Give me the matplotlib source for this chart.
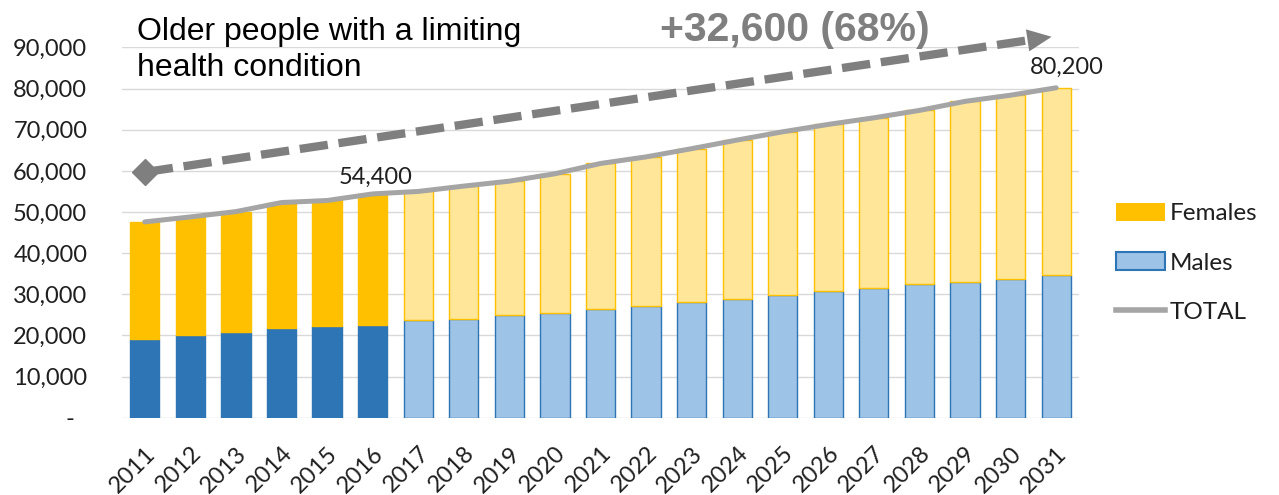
import matplotlib
matplotlib.use("Agg")
import matplotlib.pyplot as plt
from matplotlib.lines import Line2D
from matplotlib.patches import Patch
import numpy as np

# ---- data ------------------------------------------------------------------
YEARS = [str(y) for y in range(2011, 2032)]
MALES = [19200, 20000, 20900, 21800, 22200, 22600, 23700, 24100, 24900, 25400,
         26400, 27200, 28100, 28900, 29800, 30800, 31600, 32400, 32900, 33800, 34600]
TOTAL = [47600, 48800, 50100, 52300, 52800, 54400, 55000, 56300, 57500, 59300,
         61800, 63400, 65400, 67500, 69500, 71300, 72900, 74700, 76900, 78400, 80200]
FEMALES = [t - m for t, m in zip(TOTAL, MALES)]
N_OBSERVED = 6          # 2011-2016 observed, the rest projected

Y_TICKS = [0, 10000, 20000, 30000, 40000, 50000, 60000, 70000, 80000, 90000]
Y_LABELS = ["-  ", "10,000", "20,000", "30,000", "40,000", "50,000",
            "60,000", "70,000", "80,000", "90,000"]

LABELLED = {5: "54,400", 20: "80,200"}   # bar index -> data label
TITLE = "Older people with a limiting\nhealth condition"
CHANGE = "+32,600 (68%)"
ARROW_FROM = (0, 59700)
ARROW_TO = (19.9, 92600)

# ---- palette ---------------------------------------------------------------
F_DARK, F_LIGHT = "#FFC000", "#FFE699"
M_DARK, M_LIGHT = "#2E75B6", "#9DC3E6"
TOTAL_C = "#A5A5A5"
ARROW_C = "#7F7F7F"
GRID_C = "#D9D9D9"
TXT = "#1F1F1F"
LABEL_FONT = "Lato"
TITLE_FONT = "Liberation Sans"
LABEL_NUDGE = {5: (2, 4.5), 20: (8, 7.5)}    # points, data-label offsets

fig = plt.figure(figsize=(12.79, 4.95), dpi=100)
ax = fig.add_axes([0.0954, 0.1562, 0.7482, 0.7479])

x = np.arange(len(YEARS))
m_col = [M_DARK if i < N_OBSERVED else M_LIGHT for i in x]
f_col = [F_DARK if i < N_OBSERVED else F_LIGHT for i in x]
ax.bar(x, MALES, width=0.64, color=m_col, edgecolor=M_DARK, linewidth=1.0, zorder=2)
ax.bar(x, FEMALES, bottom=MALES, width=0.64, color=f_col, edgecolor=F_DARK,
       linewidth=1.0, zorder=2)
ax.plot(x, TOTAL, color=TOTAL_C, lw=3.6, solid_capstyle="round", zorder=3)

for i, lab in LABELLED.items():
    ax.annotate(lab, (x[i], TOTAL[i]), xytext=LABEL_NUDGE[i], textcoords="offset points",
                ha="center", va="bottom", fontsize=17, family=LABEL_FONT, color=TXT)

# dashed growth arrow
frac = 0.972
x_end = ARROW_FROM[0] + frac * (ARROW_TO[0] - ARROW_FROM[0])
y_end = ARROW_FROM[1] + frac * (ARROW_TO[1] - ARROW_FROM[1])
ax.plot([ARROW_FROM[0], x_end], [ARROW_FROM[1], y_end], color=ARROW_C, lw=6,
        dashes=(3.4, 1.3), solid_capstyle="butt", clip_on=False, zorder=4)
ax.plot(*ARROW_FROM, marker="D", ms=13, color=ARROW_C, clip_on=False, zorder=4)
ax.annotate("", xy=ARROW_TO, xytext=ARROW_FROM, annotation_clip=False,
            arrowprops=dict(arrowstyle="-|>,head_length=1.75,head_width=0.8",
                            color=ARROW_C, lw=0, shrinkA=0, shrinkB=0), zorder=4)

ax.set_xlim(-0.5, len(YEARS) - 0.5)
ax.set_ylim(0, 90000)
ax.set_yticks(Y_TICKS, Y_LABELS)
ax.set_xticks(x, YEARS, rotation=45, ha="right", va="top", rotation_mode="anchor")
ax.tick_params(axis="y", length=0, pad=25, labelsize=17, labelcolor=TXT)
ax.tick_params(axis="x", length=0, pad=18, labelsize=17, labelcolor=TXT)
for lab in ax.get_xticklabels() + ax.get_yticklabels():
    lab.set_family(LABEL_FONT)
ax.grid(axis="y", color=GRID_C, lw=1.0, zorder=0)
ax.set_axisbelow(True)
for s in ax.spines.values():
    s.set_visible(False)

fig.text(137 / 1279, 0.965, TITLE, fontsize=23, family=TITLE_FONT, color="black",
         ha="left", va="top", linespacing=1.25)
fig.text(795 / 1279, 1 - 41 / 495, CHANGE, fontsize=29.5, fontweight="bold",
         family=TITLE_FONT, color=ARROW_C, ha="center", va="baseline")

handles = [Patch(facecolor=F_DARK, edgecolor="none"),
           Patch(facecolor=M_LIGHT, edgecolor=M_DARK, lw=1.5),
           Line2D([], [], color=TOTAL_C, lw=4)]
fig.legend(handles, ["Females", "Males", "TOTAL"], loc="upper left",
           bbox_to_anchor=(1116 / 1279, 1 - 203 / 495), frameon=False,
           prop={"family": LABEL_FONT, "size": 17.5}, labelcolor=TXT,
           handlelength=2.0, handleheight=0.75, handletextpad=0.2,
           labelspacing=1.15, borderpad=0, borderaxespad=0)

fig.savefig("out.png", dpi=100)
